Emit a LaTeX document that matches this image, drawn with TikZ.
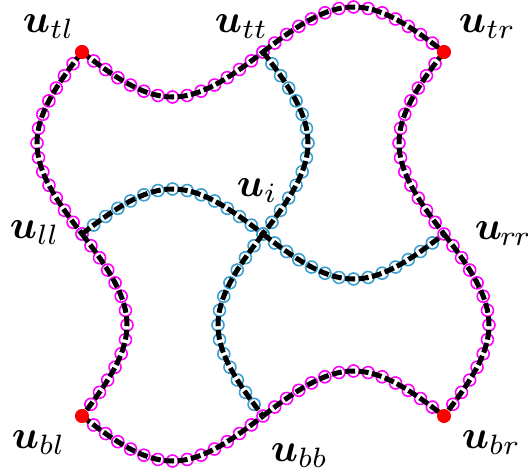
\documentclass[tikz,border=0pt]{standalone}
\usepackage{bm}
\usetikzlibrary{calc,decorations.markings}
\definecolor{mmag}{RGB}{255,0,255}
\definecolor{mblue}{RGB}{58,160,210}
\begin{document}
\begin{tikzpicture}[x=1pt,y=-1pt,
  lbl/.style={inner sep=0pt, anchor=base west, scale=4},
  ring/.style={postaction={decorate,decoration={markings, mark=between positions 0 and 1 step 0.07142 with {\draw[#1,line width=1.6pt] (0,0) circle (6pt);}}}},
  curve/.style={draw=black, line width=5pt, dash pattern=on 10pt off 3.5pt},
  corner/.style={fill=red, circle, inner sep=0pt, minimum size=14pt}
]
\useasboundingbox (0,0) rectangle (528,472);
% grid points
\coordinate (tl) at (82,52);
\coordinate (tt) at (263,52);
\coordinate (tr) at (444,52);
\coordinate (ll) at (82,234);
\coordinate (i)  at (263,234);
\coordinate (rr) at (444,234);
\coordinate (bl) at (82,416);
\coordinate (bb) at (263,416);
\coordinate (br) at (444,416);
% interior rings (blue)
\foreach \a/\b/\dx/\dy in {ll/i/0/-60, i/rr/0/60, tt/i/60/0, i/bb/-60/0}{
  \path[ring=mblue] (\a) .. controls ($(\a)!0.4244!(\b)+(\dx,\dy)$) and ($(\b)!0.4244!(\a)+(\dx,\dy)$) .. (\b);
}
% boundary rings (magenta)
\foreach \a/\b/\dx/\dy in {tl/tt/0/60, tt/tr/0/-60, tl/ll/-60/0, ll/bl/60/0, tr/rr/-60/0, rr/br/60/0, bl/bb/0/60, bb/br/0/-60}{
  \path[ring=mmag] (\a) .. controls ($(\a)!0.4244!(\b)+(\dx,\dy)$) and ($(\b)!0.4244!(\a)+(\dx,\dy)$) .. (\b);
}
% dashed curves
\foreach \a/\b/\dx/\dy in {ll/i/0/-60, i/rr/0/60, tt/i/60/0, i/bb/-60/0, tl/tt/0/60, tt/tr/0/-60, tl/ll/-60/0, ll/bl/60/0, tr/rr/-60/0, rr/br/60/0, bl/bb/0/60, bb/br/0/-60}{
  \draw[curve] (\a) .. controls ($(\a)!0.4244!(\b)+(\dx,\dy)$) and ($(\b)!0.4244!(\a)+(\dx,\dy)$) .. (\b);
}
% corner dots
\node[corner] (dtl) at (tl) {};
\node[corner] (dtr) at (tr) {};
\node[corner] (dbl) at (bl) {};
\node[corner] (dbr) at (br) {};
% labels
\node[lbl] (Ltl) at (22,32) {$\bm{u}_{tl}$};
\node[lbl] (Ltt) at (214,32) {$\bm{u}_{tt}$};
\node[lbl] (Ltr) at (458,32) {$\bm{u}_{tr}$};
\node[lbl] (Lll) at (9,238) {$\bm{u}_{ll}$};
\node[lbl] (Li)  at (236,196) {$\bm{u}_{i}$};
\node[lbl] (Lrr) at (474,239) {$\bm{u}_{\mkern-1mu r\mkern-1mu r}$};
\node[lbl] (Lbl) at (11,448) {$\bm{u}_{bl}$};
\node[lbl] (Lbb) at (270,461) {$\bm{u}_{bb}$};
\node[lbl] (Lbr) at (461,448) {$\bm{u}_{br}$};
\end{tikzpicture}
\end{document}
